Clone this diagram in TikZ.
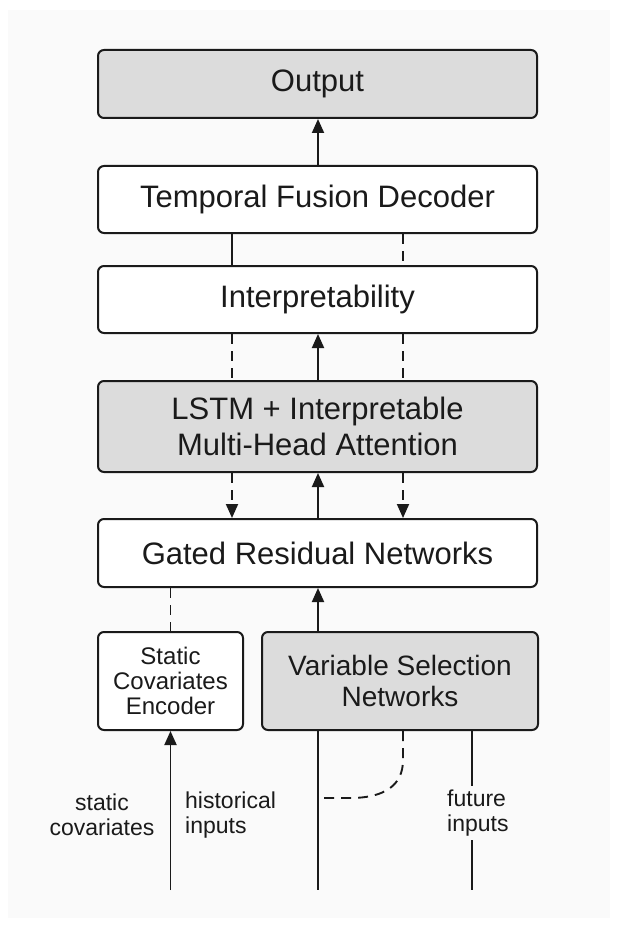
\documentclass[tikz,border=0pt]{standalone}
\usepackage{fontspec}
\setmainfont{Liberation Sans}
\usetikzlibrary{arrows.meta,calc}
\definecolor{boxgray}{HTML}{DCDCDC}
\definecolor{ink}{HTML}{1A1A1A}
\definecolor{bgpanel}{HTML}{FAFAFA}
\begin{document}
\begin{tikzpicture}[x=1pt,y=-1pt,
  blk/.style={draw=ink,line width=2pt,rounded corners=6pt,fill=white,
    text=ink,align=center,inner sep=0pt},
  graybox/.style={blk,fill=boxgray},
  bigtxt/.style={font=\fontsize{31}{36}\selectfont},
  lbl/.style={text=ink,font=\fontsize{23}{25}\selectfont,inner sep=0pt},
  conn/.style={draw=ink,line width=1.9pt},
  dsh/.style={conn,dash pattern=on 10pt off 7pt},
  arr/.style={-{Triangle[width=12pt,length=14pt]}}
]
\useasboundingbox (0,0) rectangle (616,928);
\fill[white] (0,0) rectangle (616,928);
\fill[bgpanel] (8,10) rectangle (610,918);

% main boxes
\node[graybox,bigtxt,minimum width=439pt,minimum height=68pt] (out) at (317.5,84) {Output};
\node[blk,bigtxt,minimum width=439pt,minimum height=67pt] (tfd) at (317.5,199.5) {Temporal Fusion Decoder};
\node[blk,bigtxt,minimum width=439pt,minimum height=67pt] (interp) at (317.5,299.5) {Interpretability};
\node[graybox,bigtxt,minimum width=439pt,minimum height=91pt] (lstm) at (317.5,426.5) {LSTM + Interpretable\\Multi-Head Attention};
\node[blk,bigtxt,minimum width=439pt,minimum height=68pt] (grn) at (317.5,553) {Gated Residual Networks};
\node[blk,font=\fontsize{24}{25}\selectfont,minimum width=145pt,minimum height=98pt] (sce) at (170.5,681) {Static\\Covariates\\Encoder};
\node[graybox,font=\fontsize{28}{31}\selectfont,minimum width=276pt,minimum height=98pt] (vsn) at (400,681) {Variable Selection\\Networks};

% column coordinates
\coordinate (cL) at (232,0);
\coordinate (cM) at (318,0);
\coordinate (cR) at (403,0);
\coordinate (cF) at (472,0);

% labels
\node[lbl,align=center] (sc) at (102,815) {static\\covariates};
\node[lbl,align=left,anchor=west] (hist) at (185,815) {historical\\inputs};
\node[lbl,align=left,anchor=west,inner ysep=4pt] (fut) at (447,813) {future\\inputs};

% bottom free ends
\coordinate (endS) at (170.5,890);
\coordinate (endM) at (318,890);
\coordinate (endF) at (472,890);
\coordinate (joinM) at (318,798);

% connectors top part
\draw[conn,arr] (tfd.north -| cM) -- (out.south -| cM);
\draw[conn] (tfd.south -| cL) -- (interp.north -| cL);
\draw[dsh] (tfd.south -| cR) -- (interp.north -| cR);

\draw[dsh] (interp.south -| cL) -- (lstm.north -| cL);
\draw[conn,arr] (lstm.north -| cM) -- (interp.south -| cM);
\draw[dsh] (interp.south -| cR) -- (lstm.north -| cR);

\draw[dsh,arr] (lstm.south -| cL) -- (grn.north -| cL);
\draw[conn,arr] (grn.north -| cM) -- (lstm.south -| cM);
\draw[dsh,arr] (lstm.south -| cR) -- (grn.north -| cR);

\draw[dsh] (grn.south -| sce.north) -- (sce.north);
\draw[conn,arr] (vsn.north -| cM) -- (grn.south -| cM);

% bottom part
\draw[conn,arr] (endS) -- (sce.south);
\draw[conn] (vsn.south -| cM) -- (endM);
\draw[dsh] (vsn.south -| cR) -- (403,760) .. controls (403,785) and (385,798) .. (350,798) -- (joinM);
\draw[conn] (vsn.south -| cF) -- (fut.north -| cF);
\draw[conn] (fut.south -| cF) -- (endF);
\end{tikzpicture}
\end{document}
